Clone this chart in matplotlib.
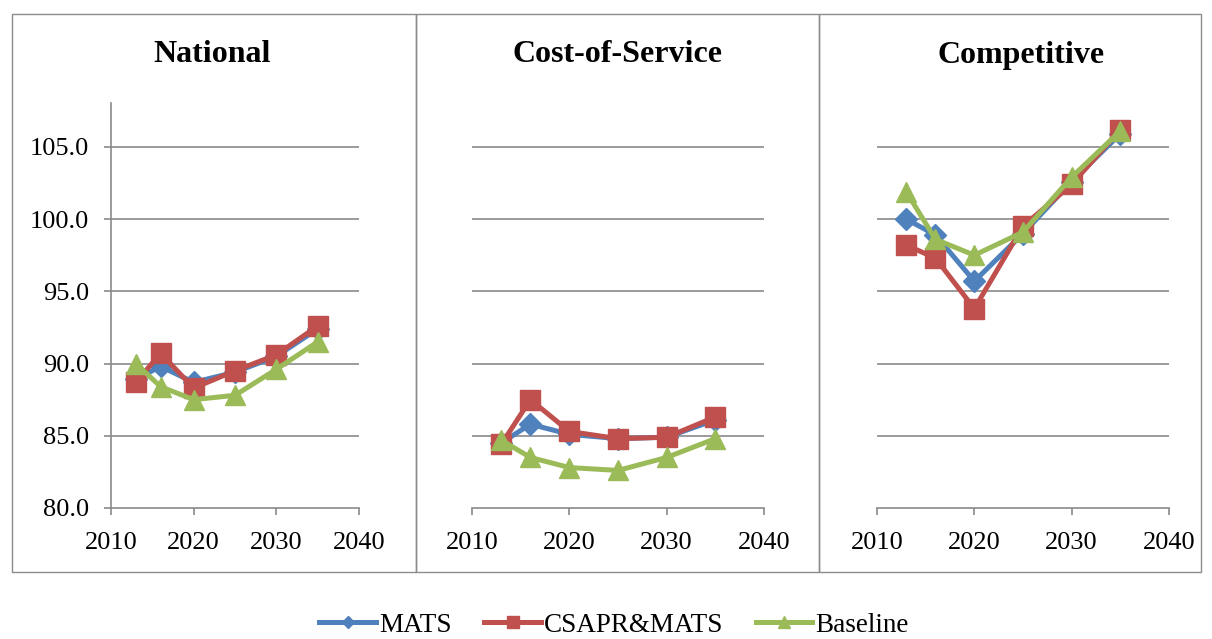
import matplotlib.pyplot as plt
from matplotlib.patches import Rectangle

years = [2013, 2016, 2020, 2025, 2030, 2035]
panels = ["National", "Cost-of-Service", "Competitive"]
series_names = ["MATS", "CSAPR&MATS", "Baseline"]

# values per panel, per series
national = {
    "MATS":       [88.9, 89.8, 88.7, 89.4, 90.5, 92.4],
    "CSAPR&MATS": [88.7, 90.7, 88.3, 89.5, 90.6, 92.6],
    "Baseline":   [90.0, 88.4, 87.5, 87.8, 89.6, 91.5],
}
cost_of_service = {
    "MATS":       [84.5, 85.8, 85.1, 84.8, 84.9, 86.1],
    "CSAPR&MATS": [84.4, 87.5, 85.3, 84.8, 84.9, 86.3],
    "Baseline":   [84.7, 83.5, 82.8, 82.6, 83.5, 84.8],
}
competitive = {
    "MATS":       [100.0, 98.9, 95.7, 99.0, 102.6, 105.9],
    "CSAPR&MATS": [98.2, 97.3, 93.8, 99.5, 102.4, 106.2],
    "Baseline":   [101.9, 98.6, 97.5, 99.1, 102.9, 106.1],
}
panel_data = [national, cost_of_service, competitive]

colors = {"MATS": "#4F81BD", "CSAPR&MATS": "#C0504D", "Baseline": "#9BBB59"}
markers = {"MATS": ("D", 11), "CSAPR&MATS": ("s", 15), "Baseline": ("^", 15)}

plt.rcParams['font.family'] = ['Liberation Serif', 'DejaVu Serif']
grid_col = "#8a8a8a"

W, H = 1212, 639
fig = plt.figure(figsize=(W / 100, H / 100), dpi=100)

# chart boxes (pixel coords -> figure fraction)
boxes = [(12, 416), (416, 819), (819, 1201)]
for x0, x1 in boxes:
    fig.patches.append(Rectangle((x0 / W, 1 - 572 / H), (x1 - x0) / W, (572 - 14) / H,
                                 transform=fig.transFigure, fill=False,
                                 edgecolor="#8c8c8c", lw=1.0))

# plot areas in pixels: left, right
plot_x = [(111, 359), (472, 764), (877, 1169)]
title_x = [212, 617, 1021]
y_bot, y_top = 508, 103.5

for i, (name, data) in enumerate(zip(panels, panel_data)):
    l, r = plot_x[i]
    ax = fig.add_axes([l / W, 1 - y_bot / H, (r - l) / W, (y_bot - y_top) / H])
    for s in series_names:
        m, ms = markers[s]
        ax.plot(years, data[s], color=colors[s], lw=3.6, marker=m, markersize=ms,
                label=s, zorder=3)
    ax.set_xlim(2010, 2040)
    ax.set_ylim(80, 108)
    ax.set_xticks([2010, 2020, 2030, 2040])
    ax.set_yticks([80, 85, 90, 95, 100, 105])
    for v in [85, 90, 95, 100, 105]:
        ax.axhline(v, color=grid_col, lw=1.2, zorder=1)
    for sp in ["top", "right"]:
        ax.spines[sp].set_visible(False)
    ax.spines["bottom"].set_color(grid_col)
    ax.spines["bottom"].set_linewidth(1.2)
    ax.tick_params(axis="x", colors=grid_col, length=5, width=1.2, labelsize=19,
                   labelcolor="black", pad=12)
    if i == 0:
        ax.spines["left"].set_color(grid_col)
        ax.spines["left"].set_linewidth(1.2)
        ax.tick_params(axis="y", colors=grid_col, length=5, width=1.2, labelsize=19,
                       labelcolor="black", pad=11)
        ax.set_yticklabels([f"{v:.1f}" for v in [80, 85, 90, 95, 100, 105]])
    else:
        ax.spines["left"].set_visible(False)
        ax.tick_params(axis="y", left=False, labelleft=False)
    fig.text(title_x[i] / W, 1 - 55 / H, name, ha="center", va="center",
             fontsize=23, fontweight="bold")

handles, labels = ax.get_legend_handles_labels()
leg = fig.legend(handles, labels, loc="center", bbox_to_anchor=(614 / W, 1 - 625 / H),
                 ncol=3, frameon=False, fontsize=19.5, handlelength=2.1,
                 columnspacing=1.2, handletextpad=0.1, markerscale=0.6,
                 borderpad=0.1)

fig.savefig("out.png", dpi=100)
